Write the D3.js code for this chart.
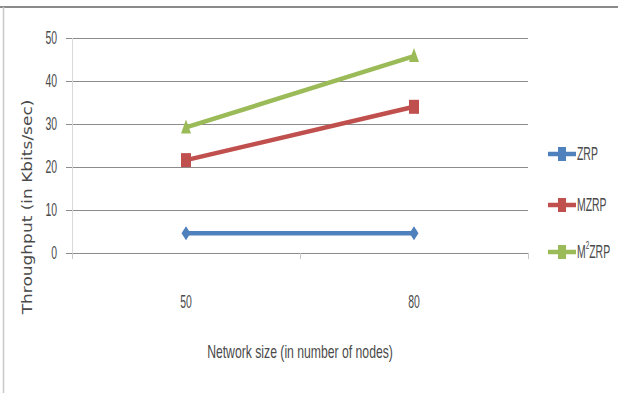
<!DOCTYPE html>
<html>
<head>
<meta charset="utf-8">
<script src="https://cdn.jsdelivr.net/npm/d3@7"></script>
<style>
  html, body { margin: 0; padding: 0; background: #fff; }
  svg { display: block; }
</style>
</head>
<body>
<svg id="chart" width="618" height="393"></svg>
<script>
// Throughput of the three routing protocols by network size
const categories = ["50", "80"];
const seriesNames = ["ZRP", "MZRP", "M\u00B2ZRP"];
const zrpValues = [4.6, 4.6];
const mzrpValues = [21.6, 34.0];
const m2zrpValues = [29.2, 45.8];
const yTicks = [0, 10, 20, 30, 40, 50];

const series = [
  { name: "ZRP", values: zrpValues, color: "#4F81BD", marker: "diamond" },
  { name: "MZRP", values: mzrpValues, color: "#C0504D", marker: "square" },
  { name: "M2ZRP", values: m2zrpValues, color: "#9BBB59", marker: "triangle" }
];

const svg = d3.select("#chart");
const plot = { left: 72, right: 528, top: 38, bottom: 253 };

const x = d3.scaleBand().domain(categories).range([plot.left, plot.right]);
const y = d3.scaleLinear().domain([0, 50]).range([plot.bottom, plot.top]);

// outer frame
svg.append("line").attr("x1", 0).attr("x2", 618).attr("y1", 7).attr("y2", 7)
  .attr("stroke", "#8a8a8a").attr("stroke-width", 2);
svg.append("line").attr("x1", 3.5).attr("x2", 3.5).attr("y1", 7).attr("y2", 393)
  .attr("stroke", "#c8c8c8").attr("stroke-width", 1.5);

// condensed text helper: glyphs drawn narrow
const narrowFont = "'Liberation Sans Narrow', 'Liberation Sans', Arial, sans-serif";
function narrowText(g, px, py, str, size, sx, anchor) {
  const t = g.append("g").attr("transform", `translate(${px},${py}) scale(${sx},1)`);
  return t.append("text").attr("text-anchor", anchor).attr("dominant-baseline", "central")
    .attr("font-family", narrowFont).attr("font-size", size).attr("fill", "#4a4a4a").text(str);
}

// gridlines
const grid = svg.append("g");
grid.selectAll("line").data(yTicks).join("line")
  .attr("x1", plot.left - 6).attr("x2", plot.right)
  .attr("y1", d => Math.round(y(d)) + 0.5).attr("y2", d => Math.round(y(d)) + 0.5)
  .attr("stroke", "#8c8c8c").attr("stroke-width", 1);

// y axis line
svg.append("line").attr("x1", plot.left + 0.5).attr("x2", plot.left + 0.5)
  .attr("y1", plot.top).attr("y2", plot.bottom + 5)
  .attr("stroke", "#d9d9d9").attr("stroke-width", 1);

// x category tick marks
const bounds = [plot.left, plot.left + x.bandwidth(), plot.right];
svg.append("g").selectAll("line").data(bounds).join("line")
  .attr("x1", d => d + 0.5).attr("x2", d => d + 0.5)
  .attr("y1", plot.bottom).attr("y2", plot.bottom + 6)
  .attr("stroke", "#c8c8c8");

// y tick labels
const yl = svg.append("g");
yTicks.forEach(v => narrowText(yl, 57, y(v), String(v), 18, 0.58, "end"));

// x tick labels
const xl = svg.append("g");
categories.forEach(c => narrowText(xl, x(c) + x.bandwidth() / 2, 302, c, 18, 0.58, "middle"));

// axis titles
narrowText(svg, 300, 352, "Network size (in number of nodes)", 18.5, 0.66, "middle");
svg.append("g").attr("transform", "translate(28,207) rotate(-90) scale(1,0.78)")
  .append("text").attr("text-anchor", "middle").attr("dominant-baseline", "central")
  .attr("font-family", "'DejaVu Sans', Verdana, sans-serif").attr("font-size", 17)
  .attr("fill", "#4a4a4a").text("Throughput (in Kbits/sec)");

// marker shapes (slightly taller than wide)
function drawMarker(g, cx, cy, type, color) {
  let path;
  if (type === "diamond") {
    path = `M${cx},${cy - 7} L${cx + 4.5},${cy} L${cx},${cy + 7} L${cx - 4.5},${cy} Z`;
  } else if (type === "square") {
    path = `M${cx - 5},${cy - 7} L${cx + 5},${cy - 7} L${cx + 5},${cy + 7} L${cx - 5},${cy + 7} Z`;
  } else {
    path = `M${cx},${cy - 8} L${cx + 5},${cy + 6} L${cx - 5},${cy + 6} Z`;
  }
  g.append("path").attr("d", path).attr("fill", color);
}

// series lines and markers
const line = d3.line()
  .x((d, i) => x(categories[i]) + x.bandwidth() / 2)
  .y(d => y(d));

series.forEach(s => {
  const g = svg.append("g");
  g.append("path").datum(s.values).attr("d", line)
    .attr("fill", "none").attr("stroke", s.color).attr("stroke-width", 4.5);
  s.values.forEach((v, i) => drawMarker(g, x(categories[i]) + x.bandwidth() / 2, y(v), s.marker, s.color));
});

// legend
const legendY = [154, 205, 252];
series.forEach((s, i) => {
  const g = svg.append("g");
  g.append("line").attr("x1", 548).attr("x2", 576).attr("y1", legendY[i]).attr("y2", legendY[i])
    .attr("stroke", s.color).attr("stroke-width", 4.5);
  g.append("rect").attr("x", 558).attr("y", legendY[i] - 7).attr("width", 8).attr("height", 14)
    .attr("fill", s.color);
  const t = g.append("g").attr("transform", `translate(577,${legendY[i]}) scale(0.58,1)`)
    .append("text").attr("dominant-baseline", "central")
    .attr("font-family", narrowFont).attr("font-size", 18).attr("fill", "#4a4a4a");
  if (i === 2) {
    t.append("tspan").text("M");
    t.append("tspan").attr("dy", -7).attr("font-size", 11).text("2");
    t.append("tspan").attr("dy", 7).text("ZRP");
  } else {
    t.text(seriesNames[i]);
  }
});
</script>
</body>
</html>
